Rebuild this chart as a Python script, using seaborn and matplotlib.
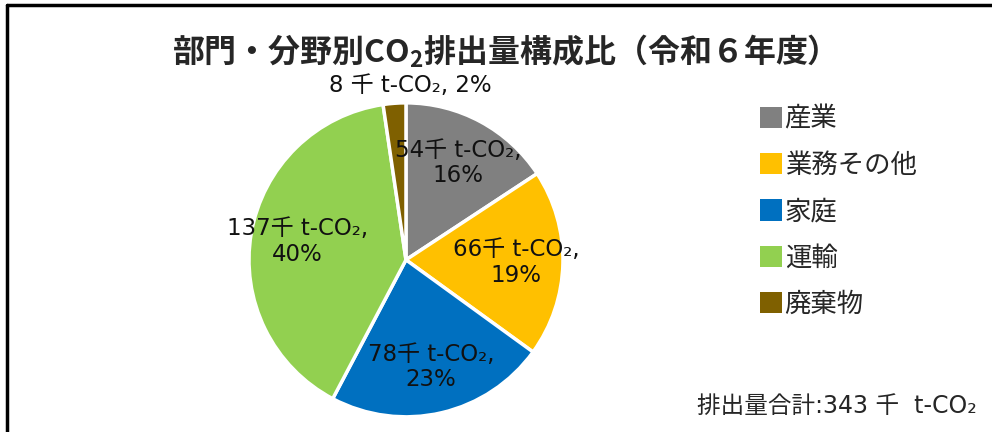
'''Pie chart of CO2 emissions by sector (Reiwa 6)
'''

import matplotlib
matplotlib.use('Agg')
import matplotlib.pyplot as plt
from matplotlib.lines import Line2D
from matplotlib.patches import Patch
import seaborn as sns

sectors = ['産業', '業務その他', '家庭', '運輸', '廃棄物']
emissions = [54, 66, 78, 137, 8]
shares = [16, 19, 23, 40, 2]
colors = sns.color_palette(['#808080', '#FFC000', '#0070C0', '#92D050', '#7F6000'])
total = 343

sns.set_style('white')
plt.rcParams['font.family'] = ['Noto Sans CJK JP', 'DejaVu Sans']
latin_first = ['DejaVu Sans', 'Noto Sans CJK JP']

fig = plt.figure(figsize=(9.92, 4.32), dpi=100)
ax = fig.add_axes([0.251, 0.035, 0.3165, 0.727])

labels = []
for e, s in zip(emissions, shares):
    labels.append(f'{e}千 t-CO\u2082,\n{s}%')
labels[-1] = f'{emissions[-1]} 千 t-CO\u2082, {shares[-1]}%'

wedges, texts = ax.pie(emissions, labels=labels, colors=colors, startangle=90,
                       counterclock=False, labeldistance=0.7,
                       wedgeprops={'edgecolor': 'white', 'linewidth': 2.5},
                       textprops={'fontsize': 16.5, 'color': '#111111',
                                  'family': latin_first})
for t in texts:
    t.set_ha('center')
    t.set_va('center')
    t.set_linespacing(1.15)
texts[-1].set_position((0.03, 1.11))
ax.set_xlim(-1, 1)
ax.set_ylim(-1, 1)
ax.set_aspect('equal')

fig.text(0.5, 0.882, '部門・分野別CO$_\\mathregular{2}$排出量構成比（令和６年度）',
         ha='center', va='center', fontsize=23, fontweight='bold')

handles = [Patch(facecolor=c, edgecolor='none') for c in colors]
fig.legend(handles, sectors, loc='upper left', bbox_to_anchor=(0.755, 0.78),
           frameon=False, fontsize=19, handlelength=0.85, handleheight=0.85,
           handletextpad=0.1, labelspacing=0.73, borderaxespad=0)

fig.text(0.985, 0.06, f'排出量合計:{total} 千  t-CO\u2082',
         ha='right', va='center', fontsize=17, family=latin_first)

# frame around the chart area (left and top edges visible)
fig.add_artist(Line2D([0.0075, 0.0075], [0, 0.988], color='black', linewidth=2.5))
fig.add_artist(Line2D([0.0075, 1], [0.988, 0.988], color='black', linewidth=2.5))

plt.savefig('out.png', dpi=100)
